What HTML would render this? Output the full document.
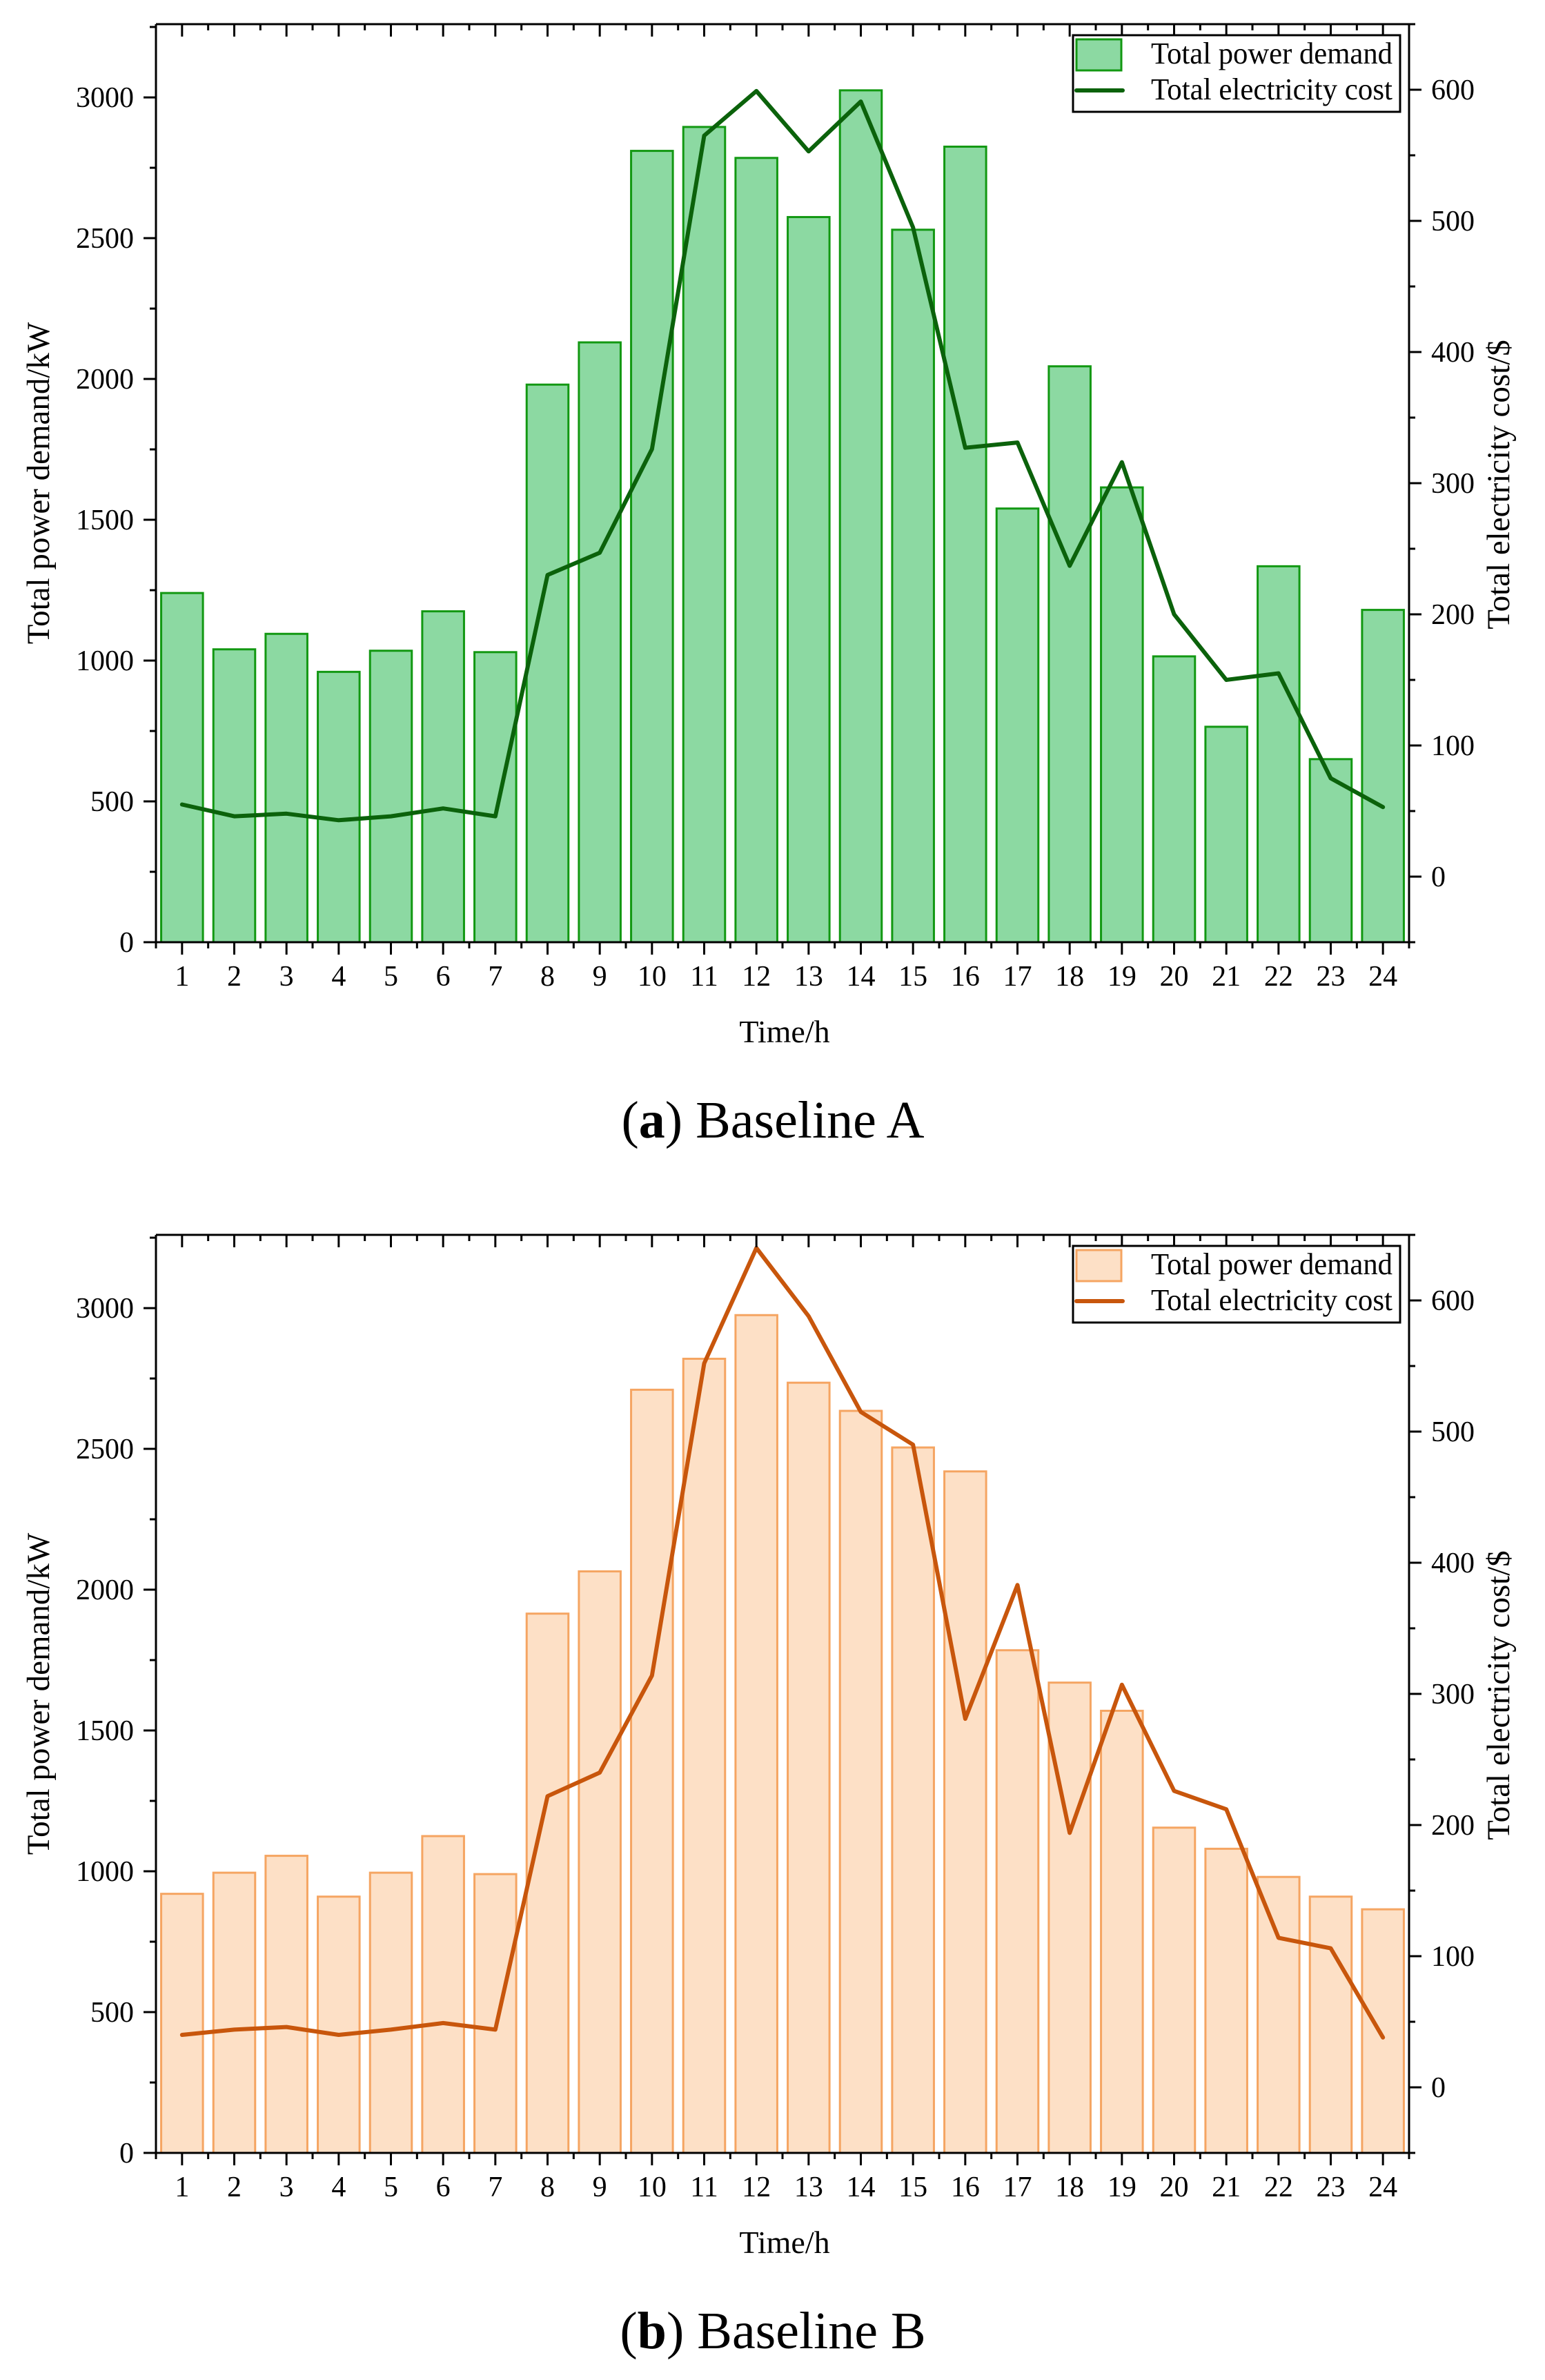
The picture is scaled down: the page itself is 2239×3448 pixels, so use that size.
<!DOCTYPE html>
<html><head><meta charset="utf-8"><style>
html,body{margin:0;padding:0;background:#fff}
svg{display:block;font-family:"Liberation Serif",serif}
</style></head><body>
<svg id="fig" width="2239" height="3448" viewBox="0 0 2239 3448" xmlns="http://www.w3.org/2000/svg"></svg>
<script>
const hours = [1,2,3,4,5,6,7,8,9,10,11,12,13,14,15,16,17,18,19,20,21,22,23,24];
const demandA = [1240,1040,1095,960,1035,1175,1030,1980,2130,2810,2895,2785,2575,3025,2530,2825,1540,2045,1615,1015,765,1335,650,1180];
const costA = [55,46,48,43,46,52,46,230,247,326,565,599,553,591,495,327,331,237,316,200,150,155,75,53];
const demandB = [920,995,1055,910,995,1125,990,1915,2065,2710,2820,2975,2735,2635,2505,2420,1785,1670,1570,1155,1080,980,910,865];
const costB = [40,44,46,40,44,49,44,222,240,314,552,640,588,515,490,281,383,194,307,226,212,114,106,38];
const leftTicks = [0,500,1000,1500,2000,2500,3000];
const rightTicks = [0,100,200,300,400,500,600];

const NS = "http://www.w3.org/2000/svg";
const svg = document.getElementById('fig');
function mk(tag, attrs, parent, text){
  const e = document.createElementNS(NS, tag);
  for (const k in attrs) e.setAttribute(k, attrs[k]);
  if (text !== undefined) e.textContent = text;
  parent.appendChild(e);
  return e;
}

function chart(off, demand, cost, fill, stroke, lineCol, caption, letter, id){
  const L = 226, R = 2042, T = 35 + off, B = 1365 + off;
  const g = mk('g', {}, svg);
  
  
  const x = v => L + (v - 0.5) / 24 * (R - L);
  const yL = v => B - v / 3260 * (B - T);
  const yR = v => B - (v + 50) / 700 * (B - T);
  demand.forEach((d, i) => {
    const bw = 0.8 * (R - L) / 24;
    const r = mk('rect', {x: x(hours[i]) - bw/2, y: yL(d), width: bw, height: B - yL(d), fill: fill, stroke: stroke, 'stroke-width': 3}, g);
    
    
  });
  const pts = cost.map((c, i) => x(hours[i]) + ',' + yR(c)).join(' ');
  const pl = mk('polyline', {points: pts, fill: 'none', stroke: lineCol, 'stroke-width': 6, 'stroke-linejoin': 'round', 'stroke-linecap': 'round'}, g);
  
  
  const ax = mk('g', {stroke: '#000', 'stroke-width': 3, fill: 'none'}, g);
  
  
  mk('line', {x1: L - 8, y1: B, x2: R + 8, y2: B}, ax);
  mk('line', {x1: L, y1: T, x2: R, y2: T}, ax);
  mk('line', {x1: L, y1: T, x2: L, y2: B + 8}, ax);
  mk('line', {x1: R, y1: T, x2: R, y2: B + 8}, ax);
  for (let h = 0.5; h <= 24.5; h += 0.5) {
    const major = Number.isInteger(h);
    const len = major ? 18 : 9;
    mk('line', {x1: x(h), y1: B, x2: x(h), y2: B + len}, ax);
    mk('line', {x1: x(h), y1: T, x2: x(h), y2: T + len}, ax);
  }
  hours.forEach(h => {
    const t = mk('text', {x: x(h), y: B + 63, 'font-size': 42, 'text-anchor': 'middle', fill: '#000'}, g, String(h));
    
    
  });
  for (let v = 0; v <= 3250; v += 250) {
    const major = v % 500 === 0;
    mk('line', {x1: L, y1: yL(v), x2: L - (major ? 18 : 9), y2: yL(v)}, ax);
  }
  leftTicks.forEach(v => {
    const t = mk('text', {x: 194, y: yL(v) + 14, 'font-size': 42, 'text-anchor': 'end', fill: '#000'}, g, String(v));
    
    
  });
  for (let v = -50; v <= 650; v += 50) {
    const major = v % 100 === 0;
    mk('line', {x1: R, y1: yR(v), x2: R + (major ? 18 : 9), y2: yR(v)}, ax);
  }
  rightTicks.forEach(v => {
    const t = mk('text', {x: 2074, y: yR(v) + 14, 'font-size': 42, 'text-anchor': 'start', fill: '#000'}, g, String(v));
    
    
  });
  let t = mk('text', {x: 1137, y: 1510 + off, 'font-size': 46, 'text-anchor': 'middle', fill: '#000'}, g, 'Time/h');
  
  
  const cy = (T + B) / 2;
  t = mk('text', {x: 0, y: 0, 'font-size': 47, 'text-anchor': 'middle', fill: '#000', transform: 'translate(71,' + cy + ') rotate(-90)'}, g, 'Total power demand/kW');
  
  
  t = mk('text', {x: 0, y: 0, 'font-size': 47, 'text-anchor': 'middle', fill: '#000', transform: 'translate(2187,' + (cy + 2) + ') rotate(-90)'}, g, 'Total electricity cost/$');
  
  
  const lg = mk('g', {}, g);
  
  
  mk('rect', {x: 1555, y: 51 + off, width: 474, height: 111, fill: '#fff', stroke: '#000', 'stroke-width': 3}, lg);
  mk('rect', {x: 1560, y: 57 + off, width: 65, height: 45, fill: fill, stroke: stroke, 'stroke-width': 3}, lg);
  mk('line', {x1: 1560, y1: 131 + off, x2: 1627, y2: 131 + off, stroke: lineCol, 'stroke-width': 6, 'stroke-linecap': 'round'}, lg);
  t = mk('text', {x: 1668, y: 92 + off, 'font-size': 44, fill: '#000', textLength: 350, lengthAdjust: 'spacingAndGlyphs'}, lg, 'Total power demand');
  
  
  t = mk('text', {x: 1668, y: 144 + off, 'font-size': 44, fill: '#000', textLength: 350, lengthAdjust: 'spacingAndGlyphs'}, lg, 'Total electricity cost');
  
  
  t = mk('text', {x: 1120, y: 1648 + off, 'font-size': 76, 'text-anchor': 'middle', fill: '#000'}, g);
  
  
  mk('tspan', {}, t, '(');
  mk('tspan', {'font-weight': 'bold'}, t, letter);
  mk('tspan', {}, t, ') ' + caption);
}
chart(0, demandA, costA, '#8cd9a2', '#129812', '#0b620b', 'Baseline A', 'a', 'a');
chart(1754, demandB, costB, '#fde0c6', '#f5a562', '#c8560c', 'Baseline B', 'b', 'b');
</script>
</body></html>
